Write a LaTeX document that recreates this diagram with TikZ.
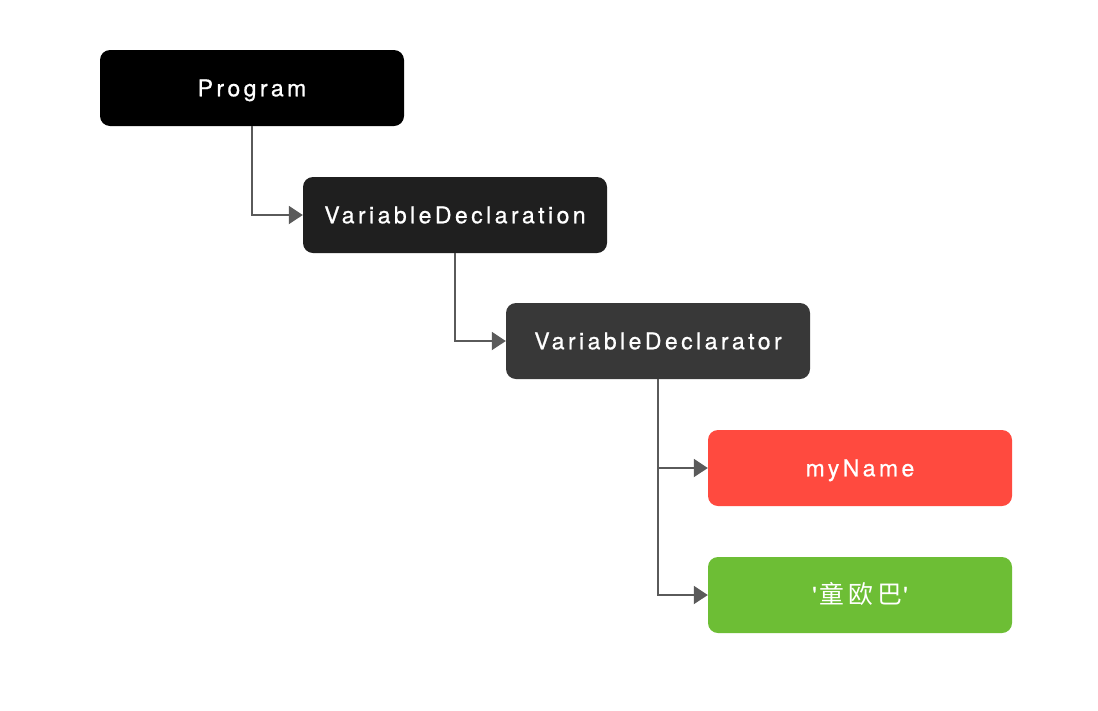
\documentclass[tikz,border=0pt]{standalone}
\usepackage{fontspec}
\setmainfont[LetterSpace=15,FakeBold=0.7,Ligatures=TeXOff]{TeX Gyre Heros}
\newfontfamily\cjk[LetterSpace=16,Scale=1.08]{Noto Sans CJK SC}
\usetikzlibrary{arrows.meta}
\definecolor{cprog}{HTML}{000000}
\definecolor{cdecl}{HTML}{1F1F1F}
\definecolor{cdtor}{HTML}{383838}
\definecolor{cred}{HTML}{FF4A3F}
\definecolor{cgreen}{HTML}{6DBE35}
\definecolor{cline}{HTML}{5A5A5A}
\begin{document}
\begin{tikzpicture}[x=1pt,y=-1pt,
  box/.style={rounded corners=10pt,minimum width=304pt,minimum height=76pt,
    inner sep=0pt,text=white,text height=16.5pt,text depth=0pt,
    font=\fontsize{23pt}{26pt}\selectfont},
  conn/.style={draw=cline,line width=2pt,-{Triangle[length=14pt,width=18pt]}}]
\useasboundingbox (0,0) rectangle (1098,710);
\fill[white] (0,0) rectangle (1098,710);
\node[box,fill=cprog] (prog) at (252,88) {Program};
\node[box,fill=cdecl] (decl) at (455,215) {VariableDeclaration};
\node[box,fill=cdtor] (dtor) at (658,341) {VariableDeclarator};
\node[box,fill=cred] (name) at (860,468) {myName};
\node[box,fill=cgreen] (str) at (860,595) {'\hspace{3pt}{\cjk 童欧巴}\hspace{1pt}'};
\draw[conn] (prog.south) |- (decl.west);
\draw[conn] (decl.south) |- (dtor.west);
\draw[conn] (dtor.south) |- (name.west);
\draw[conn] (dtor.south) |- (str.west);
\end{tikzpicture}
\end{document}
